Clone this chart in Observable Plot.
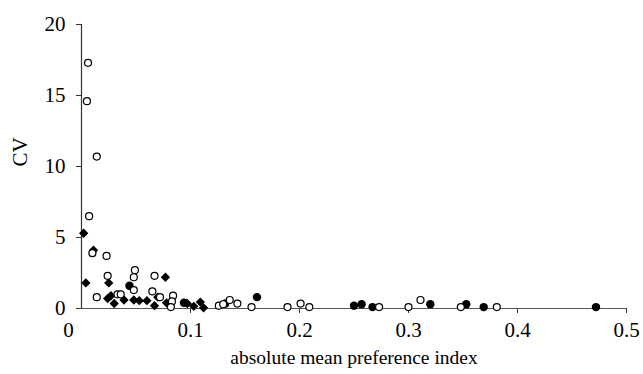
<!DOCTYPE html>
<html>
<head>
<meta charset="utf-8">
<script src="https://cdn.jsdelivr.net/npm/d3@7"></script>
<script src="https://cdn.jsdelivr.net/npm/@observablehq/plot@0.6"></script>
<style>
  html, body { margin: 0; padding: 0; background: #fff; }
</style>
</head>
<body>
<div id="chart"></div>
<script>
// Open circles series
const openX = [0.006,0.005,0.014,0.007,0.010,0.023,0.024,0.014,0.033,0.036,0.049,0.048,0.048,0.067,0.065,0.072,0.084,0.083,0.082,0.126,0.130,0.136,0.143,0.156,0.189,0.201,0.209,0.273,0.300,0.311,0.348,0.381];
const openY = [17.3,14.6,10.7,6.5,3.9,3.7,2.3,0.8,1.0,1.0,2.7,2.2,1.3,2.3,1.2,0.8,0.9,0.5,0.1,0.2,0.3,0.6,0.35,0.1,0.1,0.35,0.1,0.1,0.1,0.6,0.1,0.1];
// Filled circles series
const dotX = [0.044,0.094,0.132,0.161,0.250,0.257,0.267,0.320,0.353,0.369,0.472];
const dotY = [1.6,0.4,0.35,0.8,0.2,0.3,0.1,0.3,0.3,0.1,0.1];
// Filled diamonds series
const diaX = [0.002,0.011,0.004,0.025,0.024,0.027,0.030,0.039,0.048,0.053,0.060,0.067,0.077,0.070,0.078,0.097,0.103,0.109,0.112];
const diaY = [5.3,4.1,1.8,1.8,0.7,0.9,0.35,0.6,0.6,0.55,0.55,0.2,2.2,0.8,0.4,0.35,0.15,0.45,0.05];

const xTicks = [0.1,0.2,0.3,0.4,0.5];
const yTicks = [0,5,10,15,20];
const xTitle = "absolute mean preference index";
const yTitle = "CV";

const openData = openX.map((x,i)=>({x, y: openY[i]}));
const dotData = dotX.map((x,i)=>({x, y: dotY[i]}));
const diaData = diaX.map((x,i)=>({x, y: diaY[i]}));

const chart = Plot.plot({
  width: 643,
  height: 374,
  marginLeft: 81,
  marginRight: 17,
  marginTop: 24,
  marginBottom: 66,
  style: {fontFamily: "'Liberation Serif', serif", fontSize: "21px", color: "black", background: "white"},
  x: {domain: [0, 0.5]},
  y: {domain: [0, 20]},
  marks: [
    Plot.axisY({ticks: yTicks, tickSize: 5, tickPadding: 11, label: null, stroke: "#333", fontSize: 21}),
    Plot.axisX({ticks: xTicks, tickSize: 5, tickPadding: 9, label: null, stroke: "#333", fontSize: 21, tickFormat: d => String(d)}),
    Plot.ruleX([0], {y1: 0, y2: 20, stroke: "#333", strokeWidth: 1.2}),
    Plot.ruleY([0], {x1: 0, x2: 0.5, stroke: "#555", strokeWidth: 1.2}),
    Plot.text(["0"], {x: 0, y: 0, dx: -13, dy: 22, fontSize: 21}),
    Plot.text([xTitle], {frameAnchor: "bottom", dy: 55, fontSize: 19.5}),
    Plot.text([yTitle], {frameAnchor: "left", dx: -61, rotate: -90, fontSize: 21}),
    Plot.dot(diaData, {x: "x", y: "y", symbol: "diamond2", r: 4.2, fill: "black", stroke: "none"}),
    Plot.dot(dotData, {x: "x", y: "y", r: 4.2, fill: "black", stroke: "none"}),
    Plot.dot(openData, {x: "x", y: "y", r: 3.5, fill: "white", stroke: "black", strokeWidth: 1.2})
  ]
});
document.getElementById("chart").appendChild(chart);
</script>
</body>
</html>
